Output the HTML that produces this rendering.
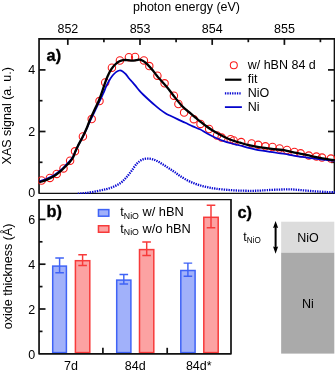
<!DOCTYPE html><html><head><meta charset="utf-8"><style>html,body{margin:0;padding:0;background:#fff}svg{display:block;will-change:transform}</style></head><body><svg width="335" height="371" viewBox="0 0 335 371" font-family="Liberation Sans, sans-serif" font-size="12.50" fill="#000">
<rect width="335" height="371" fill="#fff"/>
<defs><clipPath id="ca"><rect x="38.2" y="38.0" width="297.2" height="156.1"/></clipPath></defs>
<g stroke="#111" stroke-width="1.7" fill="none">
<path d="M39.05 193.70V38.90H334.50V193.70" stroke-linejoin="miter"/>
<path d="M39.05 193.35H334.50" stroke-width="1.25"/>
<line x1="67.8" y1="38.9" x2="67.8" y2="44.9"/>
<line x1="140.0" y1="38.9" x2="140.0" y2="44.9"/>
<line x1="212.2" y1="38.9" x2="212.2" y2="44.9"/>
<line x1="284.4" y1="38.9" x2="284.4" y2="44.9"/>
<line x1="103.9" y1="38.9" x2="103.9" y2="42.2"/>
<line x1="176.1" y1="38.9" x2="176.1" y2="42.2"/>
<line x1="248.3" y1="38.9" x2="248.3" y2="42.2"/>
<line x1="320.4" y1="38.9" x2="320.4" y2="42.2"/>
<line x1="39.0" y1="131.5" x2="45.5" y2="131.5"/>
<line x1="334.5" y1="131.5" x2="328.0" y2="131.5"/>
<line x1="39.0" y1="69.9" x2="45.5" y2="69.9"/>
<line x1="334.5" y1="69.9" x2="328.0" y2="69.9"/>
<line x1="39.0" y1="162.3" x2="42.5" y2="162.3"/>
<line x1="334.5" y1="162.3" x2="331.0" y2="162.3"/>
<line x1="39.0" y1="100.7" x2="42.5" y2="100.7"/>
<line x1="334.5" y1="100.7" x2="331.0" y2="100.7"/>
</g>
<g clip-path="url(#ca)">
<g fill="none" stroke="#fa1a1a" stroke-width="1.1">
<circle cx="41.6" cy="180.5" r="3.7"/>
<circle cx="49.9" cy="177.9" r="3.7"/>
<circle cx="56.7" cy="173.9" r="3.7"/>
<circle cx="63.5" cy="168.4" r="3.7"/>
<circle cx="70.1" cy="160.7" r="3.7"/>
<circle cx="75.0" cy="151.3" r="3.7"/>
<circle cx="82.9" cy="136.5" r="3.7"/>
<circle cx="91.7" cy="119.1" r="3.7"/>
<circle cx="99.5" cy="101.1" r="3.7"/>
<circle cx="105.2" cy="82.5" r="3.7"/>
<circle cx="111.9" cy="67.7" r="3.7"/>
<circle cx="119.9" cy="60.5" r="3.7"/>
<circle cx="128.9" cy="57.2" r="3.7"/>
<circle cx="135.1" cy="57.0" r="3.7"/>
<circle cx="143.9" cy="60.4" r="3.7"/>
<circle cx="149.3" cy="66.1" r="3.7"/>
<circle cx="157.4" cy="75.7" r="3.7"/>
<circle cx="164.6" cy="83.3" r="3.7"/>
<circle cx="173.9" cy="95.7" r="3.7"/>
<circle cx="178.4" cy="104.0" r="3.7"/>
<circle cx="184.1" cy="112.6" r="3.7"/>
<circle cx="193.8" cy="119.2" r="3.7"/>
<circle cx="200.5" cy="123.9" r="3.7"/>
<circle cx="209.1" cy="129.0" r="3.7"/>
<circle cx="217.0" cy="135.5" r="3.7"/>
<circle cx="221.6" cy="137.6" r="3.7"/>
<circle cx="230.6" cy="139.2" r="3.7"/>
<circle cx="233.7" cy="140.5" r="3.7"/>
<circle cx="241.2" cy="142.1" r="3.7"/>
<circle cx="251.6" cy="143.5" r="3.7"/>
<circle cx="258.2" cy="144.8" r="3.7"/>
<circle cx="265.4" cy="146.3" r="3.7"/>
<circle cx="272.5" cy="147.0" r="3.7"/>
<circle cx="279.6" cy="148.5" r="3.7"/>
<circle cx="287.0" cy="150.0" r="3.7"/>
<circle cx="294.4" cy="152.0" r="3.7"/>
<circle cx="300.6" cy="153.3" r="3.7"/>
<circle cx="308.8" cy="155.6" r="3.7"/>
<circle cx="316.4" cy="156.6" r="3.7"/>
<circle cx="322.0" cy="157.6" r="3.7"/>
<circle cx="330.9" cy="158.6" r="3.7"/>
</g>
<path d="M39.40 181.20 C40.68 180.77 44.62 179.63 47.10 178.60 C49.58 177.57 52.05 176.40 54.30 175.00 C56.55 173.60 58.75 171.78 60.60 170.20 C62.45 168.62 63.88 167.02 65.40 165.50 C66.92 163.98 68.45 162.53 69.70 161.10 C70.95 159.67 71.98 158.43 72.90 156.90 C73.82 155.37 74.37 153.72 75.20 151.90 C76.03 150.08 76.58 148.60 77.90 146.00 C79.22 143.40 81.60 139.28 83.10 136.30 C84.60 133.32 85.75 130.63 86.90 128.10 C88.05 125.57 88.65 123.98 90.00 121.10 C91.35 118.22 93.40 114.12 95.00 110.80 C96.60 107.48 98.18 104.17 99.60 101.20 C101.02 98.23 102.40 95.47 103.50 93.00 C104.60 90.53 105.22 88.53 106.20 86.40 C107.18 84.27 108.30 82.05 109.40 80.20 C110.50 78.35 111.70 76.65 112.80 75.30 C113.90 73.95 114.88 72.90 116.00 72.10 C117.12 71.30 118.38 70.62 119.50 70.50 C120.62 70.38 121.65 70.78 122.70 71.40 C123.75 72.02 124.73 73.02 125.80 74.20 C126.87 75.38 127.97 77.13 129.10 78.50 C130.23 79.87 131.52 81.17 132.60 82.40 C133.68 83.63 134.47 84.53 135.60 85.90 C136.73 87.27 138.15 89.17 139.40 90.60 C140.65 92.03 141.23 92.68 143.10 94.50 C144.97 96.32 148.55 99.63 150.60 101.50 C152.65 103.37 153.80 104.35 155.40 105.70 C157.00 107.05 158.53 108.35 160.20 109.60 C161.87 110.85 163.70 112.17 165.40 113.20 C167.10 114.23 168.32 114.77 170.40 115.80 C172.48 116.83 175.42 118.23 177.90 119.40 C180.38 120.57 182.82 121.63 185.30 122.80 C187.78 123.97 190.37 125.32 192.80 126.40 C195.23 127.48 197.70 128.23 199.90 129.30 C202.10 130.37 204.00 131.68 206.00 132.80 C208.00 133.92 209.92 135.00 211.90 136.00 C213.88 137.00 215.90 137.95 217.90 138.80 C219.90 139.65 221.90 140.40 223.90 141.10 C225.90 141.80 227.92 142.42 229.90 143.00 C231.88 143.58 234.12 144.18 235.80 144.60 C237.48 145.02 238.05 145.00 240.00 145.50 C241.95 146.00 245.02 146.97 247.50 147.60 C249.98 148.23 252.42 148.78 254.90 149.30 C257.38 149.82 259.90 150.27 262.40 150.70 C264.90 151.13 267.42 151.52 269.90 151.90 C272.38 152.28 274.78 152.65 277.30 153.00 C279.82 153.35 282.47 153.60 285.00 154.00 C287.53 154.40 290.02 154.97 292.50 155.40 C294.98 155.83 297.42 156.23 299.90 156.60 C302.38 156.97 304.90 157.25 307.40 157.60 C309.90 157.95 312.42 158.37 314.90 158.70 C317.38 159.03 319.82 159.33 322.30 159.60 C324.78 159.87 327.68 160.12 329.80 160.30 C331.92 160.48 334.13 160.63 335.00 160.70" fill="none" stroke="#0404cc" stroke-width="1.75"/>
<path d="M77.80 193.80 C79.28 193.65 83.42 193.35 86.70 192.90 C89.98 192.45 94.22 191.73 97.50 191.10 C100.78 190.47 103.72 189.83 106.40 189.10 C109.08 188.37 111.20 187.75 113.60 186.70 C116.00 185.65 118.73 184.28 120.80 182.80 C122.87 181.32 124.23 179.75 126.00 177.80 C127.77 175.85 129.62 173.43 131.40 171.10 C133.18 168.77 134.92 165.70 136.70 163.80 C138.48 161.90 140.30 160.57 142.10 159.70 C143.90 158.83 145.70 158.67 147.50 158.60 C149.30 158.53 151.12 158.80 152.90 159.30 C154.68 159.80 156.42 160.67 158.20 161.60 C159.98 162.53 161.80 163.77 163.60 164.90 C165.40 166.03 167.20 167.23 169.00 168.40 C170.80 169.57 172.57 170.63 174.40 171.90 C176.23 173.17 177.87 174.60 180.00 176.00 C182.13 177.40 184.82 179.07 187.20 180.30 C189.58 181.53 191.92 182.48 194.30 183.40 C196.68 184.32 199.10 185.12 201.50 185.80 C203.90 186.48 206.32 187.02 208.70 187.50 C211.08 187.98 212.62 188.30 215.80 188.70 C218.98 189.10 223.82 189.58 227.80 189.90 C231.78 190.22 235.73 190.45 239.70 190.60 C243.67 190.75 248.22 190.80 251.60 190.80 C254.98 190.80 257.45 190.72 260.00 190.60 C262.55 190.48 263.75 190.27 266.90 190.10 C270.05 189.93 274.92 189.72 278.90 189.60 C282.88 189.48 286.82 189.28 290.80 189.40 C294.78 189.52 298.82 189.98 302.80 190.30 C306.78 190.62 310.73 191.02 314.70 191.30 C318.67 191.58 323.22 191.83 326.60 192.00 C329.98 192.17 333.60 192.25 335.00 192.30" fill="none" stroke="#0808d2" stroke-width="2.3" stroke-dasharray="1.35 1.05"/>
<path d="M39.40 182.20 C40.68 181.77 44.62 180.63 47.10 179.60 C49.58 178.57 52.05 177.40 54.30 176.00 C56.55 174.60 58.75 172.78 60.60 171.20 C62.45 169.62 63.87 168.03 65.40 166.50 C66.93 164.97 68.53 163.50 69.80 162.00 C71.07 160.50 72.10 159.18 73.00 157.50 C73.90 155.82 74.38 153.83 75.20 151.90 C76.02 149.97 76.58 148.55 77.90 145.90 C79.22 143.25 81.60 139.03 83.10 136.00 C84.60 132.97 85.80 130.28 86.90 127.70 C88.00 125.12 88.48 123.38 89.70 120.50 C90.92 117.62 92.68 113.68 94.20 110.40 C95.72 107.12 97.42 104.10 98.80 100.80 C100.18 97.50 101.60 93.15 102.50 90.60 C103.40 88.05 103.38 87.82 104.20 85.50 C105.02 83.18 106.18 79.47 107.40 76.70 C108.62 73.93 110.12 71.02 111.50 68.90 C112.88 66.78 114.37 65.27 115.70 64.00 C117.03 62.73 118.27 61.95 119.50 61.30 C120.73 60.65 121.70 60.30 123.10 60.10 C124.50 59.90 126.42 60.00 127.90 60.10 C129.38 60.20 130.62 60.68 132.00 60.70 C133.38 60.72 134.93 60.38 136.20 60.20 C137.47 60.02 138.58 59.53 139.60 59.60 C140.62 59.67 141.25 60.03 142.30 60.60 C143.35 61.17 144.70 62.00 145.90 63.00 C147.10 64.00 148.30 65.30 149.50 66.60 C150.70 67.90 151.90 69.30 153.10 70.80 C154.30 72.30 155.32 73.92 156.70 75.60 C158.08 77.28 159.53 78.80 161.40 80.90 C163.27 83.00 165.58 85.37 167.90 88.20 C170.22 91.03 172.82 94.80 175.30 97.90 C177.78 101.00 180.30 104.25 182.80 106.80 C185.30 109.35 188.20 111.42 190.30 113.20 C192.40 114.98 193.78 116.15 195.40 117.50 C197.02 118.85 198.23 119.88 200.00 121.30 C201.77 122.72 204.02 124.55 206.00 126.00 C207.98 127.45 209.92 128.73 211.90 130.00 C213.88 131.27 215.90 132.47 217.90 133.60 C219.90 134.73 221.90 135.82 223.90 136.80 C225.90 137.78 227.92 138.72 229.90 139.50 C231.88 140.28 234.12 140.97 235.80 141.50 C237.48 142.03 238.05 142.15 240.00 142.70 C241.95 143.25 245.02 144.20 247.50 144.80 C249.98 145.40 252.42 145.83 254.90 146.30 C257.38 146.77 259.90 147.22 262.40 147.60 C264.90 147.98 267.42 148.28 269.90 148.60 C272.38 148.92 274.78 149.22 277.30 149.50 C279.82 149.78 282.47 149.87 285.00 150.30 C287.53 150.73 290.02 151.55 292.50 152.10 C294.98 152.65 297.42 153.10 299.90 153.60 C302.38 154.10 304.90 154.55 307.40 155.10 C309.90 155.65 312.42 156.35 314.90 156.90 C317.38 157.45 319.82 157.95 322.30 158.40 C324.78 158.85 327.68 159.30 329.80 159.60 C331.92 159.90 334.13 160.10 335.00 160.20" fill="none" stroke="#000" stroke-width="2.3" stroke-linejoin="round"/>
</g>
<text x="186.5" y="11.3" text-anchor="middle">photon energy (eV)</text>
<text x="67.9" y="33" text-anchor="middle">852</text>
<text x="140.1" y="33" text-anchor="middle">853</text>
<text x="212.3" y="33" text-anchor="middle">854</text>
<text x="284.5" y="33" text-anchor="middle">855</text>
<text x="35.2" y="197.2" text-anchor="end">0</text>
<text x="35.2" y="136.0" text-anchor="end">2</text>
<text x="35.2" y="74.1" text-anchor="end">4</text>
<text transform="translate(11.4,115.8) rotate(-90)" text-anchor="middle">XAS signal (a. u.)</text>
<text transform="translate(46.6,60.5) scale(0.94,1)" font-weight="bold" font-size="17.4" stroke="#000" stroke-width="0.35">a)</text>
<circle cx="233.8" cy="65.2" r="3.5" fill="none" stroke="#fa1a1a" stroke-width="1.05"/>
<text x="247.7" y="68.9">w/ hBN 84 d</text>
<line x1="225.0" y1="79.7" x2="241.4" y2="79.7" stroke="#000" stroke-width="2.2"/>
<text x="247.7" y="83.1">fit</text>
<line x1="224.9" y1="93.4" x2="241.4" y2="93.4" stroke="#0808d2" stroke-width="2.3" stroke-dasharray="1.35 1.05"/>
<text x="247.7" y="97.4">NiO</text>
<line x1="224.9" y1="107.1" x2="241.9" y2="107.1" stroke="#0404cc" stroke-width="1.75"/>
<text x="247.7" y="111.2">Ni</text>
<rect x="52.7" y="266.1" width="13.7" height="86.5" fill="#a1b1fa" stroke="#3f63f6" stroke-width="1.5"/>
<path d="M59.6 258.0V272.8M55.3 258.0h8.6M55.3 272.8h8.6" fill="none" stroke="#3f63f6" stroke-width="1.45"/>
<rect x="75.4" y="260.7" width="14.4" height="91.9" fill="#fca2a2" stroke="#f73a3a" stroke-width="1.5"/>
<path d="M82.6 254.8V265.5M78.3 254.8h8.6M78.3 265.5h8.6" fill="none" stroke="#f73a3a" stroke-width="1.45"/>
<rect x="116.7" y="280.1" width="14.2" height="72.5" fill="#a1b1fa" stroke="#3f63f6" stroke-width="1.5"/>
<path d="M123.8 274.5V283.9M119.5 274.5h8.6M119.5 283.9h8.6" fill="none" stroke="#3f63f6" stroke-width="1.45"/>
<rect x="139.5" y="249.6" width="14.3" height="103.0" fill="#fca2a2" stroke="#f73a3a" stroke-width="1.5"/>
<path d="M146.7 242.0V255.5M142.3 242.0h8.6M142.3 255.5h8.6" fill="none" stroke="#f73a3a" stroke-width="1.45"/>
<rect x="180.8" y="270.5" width="14.3" height="82.1" fill="#a1b1fa" stroke="#3f63f6" stroke-width="1.5"/>
<path d="M187.9 263.1V276.2M183.6 263.1h8.6M183.6 276.2h8.6" fill="none" stroke="#3f63f6" stroke-width="1.45"/>
<rect x="203.8" y="217.3" width="14.4" height="135.3" fill="#fca2a2" stroke="#f73a3a" stroke-width="1.5"/>
<path d="M211.0 205.2V227.7M206.7 205.2h8.6M206.7 227.7h8.6" fill="none" stroke="#f73a3a" stroke-width="1.45"/>
<g stroke="#111" stroke-width="1.7" fill="none">
<path d="M39.05 199.10V353.80H231.00V199.10" stroke-linejoin="round"/>
<path d="M39.05 199.65H231.00" stroke-width="1.4"/>
<line x1="39.0" y1="309.0" x2="45.5" y2="309.0"/>
<line x1="39.0" y1="264.2" x2="45.5" y2="264.2"/>
<line x1="39.0" y1="219.4" x2="45.5" y2="219.4"/>
<line x1="39.0" y1="331.4" x2="42.5" y2="331.4"/>
<line x1="39.0" y1="286.6" x2="42.5" y2="286.6"/>
<line x1="39.0" y1="241.8" x2="42.5" y2="241.8"/>
<line x1="102.9" y1="353.8" x2="102.9" y2="347.8"/>
<line x1="167.2" y1="353.8" x2="167.2" y2="347.8"/>
</g>
<text x="35.2" y="358.7" text-anchor="end">0</text>
<text x="35.2" y="313.9" text-anchor="end">2</text>
<text x="35.2" y="269.1" text-anchor="end">4</text>
<text x="35.2" y="224.3" text-anchor="end">6</text>
<text transform="translate(11.9,276.4) rotate(-90)" text-anchor="middle">oxide thickness (Å)</text>
<text transform="translate(46.6,217.3) scale(0.94,1)" font-weight="bold" font-size="17.4" stroke="#000" stroke-width="0.35">b)</text>
<text x="71.0" y="369.5" text-anchor="middle">7d</text>
<text x="135.3" y="369.5" text-anchor="middle">84d</text>
<text x="198.8" y="369.5" text-anchor="middle">84d*</text>
<rect x="98.45" y="209.6" width="10.4" height="6.6" fill="#a1b1fa" stroke="#3f63f6" stroke-width="1.5"/>
<rect x="98.45" y="225.75" width="10.4" height="6.5" fill="#fca2a2" stroke="#f73a3a" stroke-width="1.5"/>
<text x="120.3" y="216.2" font-size="12.8">t<tspan font-size="8.75" dy="2.4">NiO</tspan><tspan dy="-2.4"> w/ hBN</tspan></text>
<text x="120.3" y="232.6" font-size="12.8">t<tspan font-size="8.75" dy="2.4">NiO</tspan><tspan dy="-2.4"> w/o hBN</tspan></text>
<text transform="translate(237.4,217.5) scale(0.94,1)" font-weight="bold" font-size="17.4" stroke="#000" stroke-width="0.35">c)</text>
<rect x="281.15" y="221.7" width="53.15" height="31.3" fill="#dcdcdc"/>
<rect x="281.15" y="252.85" width="53.15" height="100.75" fill="#aaaaaa"/>
<text x="308.0" y="242" text-anchor="middle">NiO</text>
<text x="308" y="308" text-anchor="middle">Ni</text>
<text x="243.3" y="240.8">t<tspan font-size="8.15" dy="2.5">NiO</tspan></text>
<path d="M275.6 226V249" stroke="#000" stroke-width="2.0" fill="none"/>
<path d="M275.6 220.9L278.15 228.1L275.6 227.3L273.05 228.1ZM275.6 253.7L278.15 246.5L275.6 247.3L273.05 246.5Z" fill="#000"/>
</svg></body></html>
